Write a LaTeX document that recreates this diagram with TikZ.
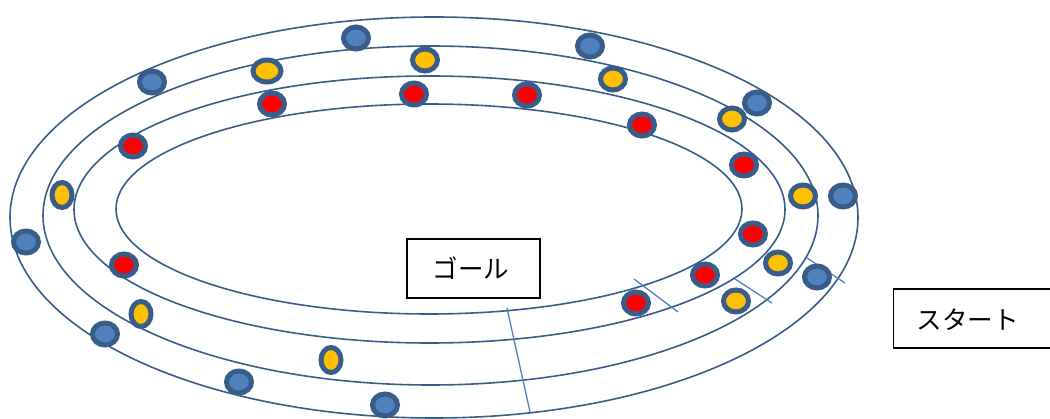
\documentclass[tikz,border=0pt]{standalone}
\usepackage{fontspec}
\newfontfamily\cjk{Noto Sans CJK JP}
\definecolor{ring}{HTML}{385D8A}
\definecolor{dotblue}{HTML}{4F81BD}
\definecolor{dotyel}{HTML}{FFC000}
\definecolor{dotred}{HTML}{FF0000}
\definecolor{tickc}{HTML}{4F81BD}
\begin{document}
\begin{tikzpicture}[x=1pt,y=-1pt,
  ringline/.style={draw=ring, line width=1.6pt},
  dotbase/.style={draw=ring, line width=5pt},
  bdot/.style={dotbase, fill=dotblue},
  ydot/.style={dotbase, fill=dotyel},
  rdot/.style={dotbase, fill=dotred},
  tickline/.style={draw=tickc, line width=1.3pt},
  box/.style={draw=black, line width=1.1pt, inner sep=0pt},
  lbl/.style={font=\cjk\fontsize{25.5}{25.5}\selectfont, inner sep=0pt}]
\useasboundingbox (0,0) rectangle (1050,419);
% tracks
\draw[ringline] (434,217.5) ellipse (424pt and 200.5pt);
\draw[ringline] (430.5,215.5) ellipse (387.5pt and 169.5pt);
\draw[ringline] (429.5,209.5) ellipse (355.5pt and 133.5pt);
\draw[ringline] (429,209) ellipse (313pt and 105pt);
% ticks
\coordinate (t1a) at (634,279); \coordinate (t1b) at (678,312);
\coordinate (t2a) at (735,279); \coordinate (t2b) at (772,303);
\coordinate (t3a) at (807,258); \coordinate (t3b) at (845,283);
\coordinate (t4a) at (507,308); \coordinate (t4b) at (530,412);
\draw[tickline] (t1a) -- (t1b);
\draw[tickline] (t2a) -- (t2b);
\draw[tickline] (t3a) -- (t3b);
\draw[tickline] (t4a) -- (t4b);
% blue dots (outer lane)
\foreach \px/\py in {356/38, 590/46, 152/82, 757/103, 843/196, 26/242, 817/277, 105/334, 239/382, 385/405}
  \draw[bdot] (\px,\py) ellipse (12.5pt and 11pt);
% yellow dots (middle lane)
\foreach \px/\py in {425/60, 613/79, 732/119, 803/196, 778/263, 736/301}
  \draw[ydot] (\px,\py) ellipse (12.5pt and 11pt);
\draw[ydot] (267,71) ellipse (14pt and 11pt);
\foreach \px/\py in {62/195, 141/314, 331/360}
  \draw[ydot] (\px,\py) ellipse (10pt and 12.5pt);
% red dots (inner lane)
\foreach \px/\py in {272/104, 414/94, 527/95, 642/125, 744/165, 133/146, 753/234, 124/265, 705/275, 636/303}
  \draw[rdot] (\px,\py) ellipse (12.5pt and 11pt);
% boxes
\node[box, minimum width=133pt, minimum height=59pt] (goal) at (473.5,268.5) {};
\node[lbl] (goallbl) at (471,268) {ゴール};
\node[box, anchor=west, minimum width=170pt, minimum height=59pt] (start) at (893,318.5) {};
\node[lbl] (startlbl) at (967.5,320) {スタート};
\end{tikzpicture}
\end{document}
